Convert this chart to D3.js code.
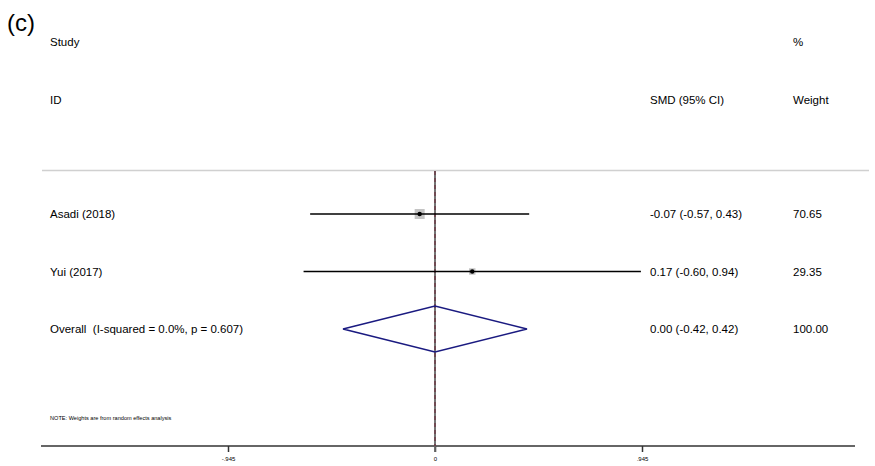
<!DOCTYPE html>
<html><head><meta charset="utf-8">
<script src="https://cdn.jsdelivr.net/npm/d3@7"></script>
<style>body{margin:0;background:#fff}svg{display:block}text{font-family:"Liberation Sans",Arial,sans-serif;fill:#000;white-space:pre}</style>
</head><body>
<script>
const studies = ["Asadi (2018)", "Yui (2017)"];
const smd = [-0.07, 0.17];
const lower = [-0.57, -0.60];
const upper = [0.43, 0.94];
const weights = [70.65, 29.35];
const overallLabel = "Overall  (I-squared = 0.0%, p = 0.607)";
const overall = {est: 0.00, lo: -0.42, hi: 0.42, weight: 100.00};
const tickValues = [-0.945, 0, 0.945];
const tickLabels = ["-.945", "0", ".945"];

const W = 875, H = 466;
const svg = d3.select("body").append("svg").attr("width", W).attr("height", H);

const x = d3.scaleLinear().domain([-0.945, 0.945]).range([228, 642]);
const rowNames = [...studies, "overall"];
const y = d3.scalePoint().domain(rowNames).range([214, 329]);

const fs = 11.5;
svg.append("text").attr("x", 7).attr("y", 31).style("font-size", "24px").text("(c)");
svg.append("text").attr("x", 50).attr("y", 46).style("font-size", fs + "px").text("Study");
svg.append("text").attr("x", 50).attr("y", 104).style("font-size", fs + "px").text("ID");
svg.append("text").attr("x", 650).attr("y", 104).style("font-size", fs + "px").text("SMD (95% CI)");
svg.append("text").attr("x", 793).attr("y", 46).style("font-size", fs + "px").text("%");
svg.append("text").attr("x", 793).attr("y", 104).style("font-size", fs + "px").text("Weight");

// separator
svg.append("line").attr("x1", 42).attr("x2", 869).attr("y1", 170.5).attr("y2", 170.5)
  .attr("stroke", "#d0d0d0").attr("stroke-width", 1.5);

// axis
const axisY = 446;
const axis = d3.axisBottom(x).tickValues(tickValues).tickFormat((d, i) => tickLabels[i]).tickSize(6).tickPadding(5);
const gA = svg.append("g").attr("transform", `translate(0,${axisY})`).call(axis);
gA.select(".domain").remove();
gA.selectAll(".tick line").attr("stroke", "#333").attr("stroke-width", 1.5);
gA.selectAll(".tick text").style("font-size", "6px").style("font-family", "Liberation Sans, Arial, sans-serif").attr("fill", "#333");
svg.append("line").attr("x1", 41).attr("x2", 855).attr("y1", axisY).attr("y2", axisY)
  .attr("stroke", "#333").attr("stroke-width", 1.5);

// null line and overall line
svg.append("line").attr("x1", x(0)).attr("x2", x(0)).attr("y1", 171).attr("y2", axisY + 6)
  .attr("stroke", "#666").attr("stroke-width", 1.8);
svg.append("line").attr("x1", x(overall.est)).attr("x2", x(overall.est)).attr("y1", 171).attr("y2", axisY)
  .attr("stroke", "#6a1a2a").attr("stroke-width", 0.9).attr("stroke-dasharray", "4,3");

// study rows
const maxW = d3.max(weights);
studies.forEach((s, i) => {
  const yy = y(s);
  const side = 10 * Math.sqrt(weights[i] / maxW);
  svg.append("rect").attr("x", x(smd[i]) - side / 2).attr("y", yy - side / 2)
    .attr("width", side).attr("height", side).attr("fill", "#c4c4c4");
  svg.append("line").attr("x1", x(lower[i])).attr("x2", x(upper[i])).attr("y1", yy).attr("y2", yy)
    .attr("stroke", "#000").attr("stroke-width", 1.5);
  svg.append("circle").attr("cx", x(smd[i])).attr("cy", yy).attr("r", 2.2).attr("fill", "#000");
  svg.append("text").attr("x", 50).attr("y", yy + 4).style("font-size", fs + "px").text(s);
  svg.append("text").attr("x", 650).attr("y", yy + 4).style("font-size", fs + "px")
    .text(`${smd[i].toFixed(2)} (${lower[i].toFixed(2)}, ${upper[i].toFixed(2)})`);
  svg.append("text").attr("x", 793).attr("y", yy + 4).style("font-size", fs + "px").text(weights[i].toFixed(2));
});

// overall diamond
const yo = y("overall");
const dh = 23;
svg.append("path")
  .attr("d", `M${x(overall.lo)},${yo} L${x(overall.est)},${yo - dh} L${x(overall.hi)},${yo} L${x(overall.est)},${yo + dh} Z`)
  .attr("fill", "none").attr("stroke", "#1a1a80").attr("stroke-width", 1.5);
svg.append("text").attr("x", 50).attr("y", yo + 4).style("font-size", fs + "px").text(overallLabel);
svg.append("text").attr("x", 650).attr("y", yo + 4).style("font-size", fs + "px")
  .text(`${overall.est.toFixed(2)} (${overall.lo.toFixed(2)}, ${overall.hi.toFixed(2)})`);
svg.append("text").attr("x", 793).attr("y", yo + 4).style("font-size", fs + "px").text(overall.weight.toFixed(2));

svg.append("text").attr("x", 50).attr("y", 420).style("font-size", "5.6px").text("NOTE: Weights are from random effects analysis");
</script>
</body></html>
